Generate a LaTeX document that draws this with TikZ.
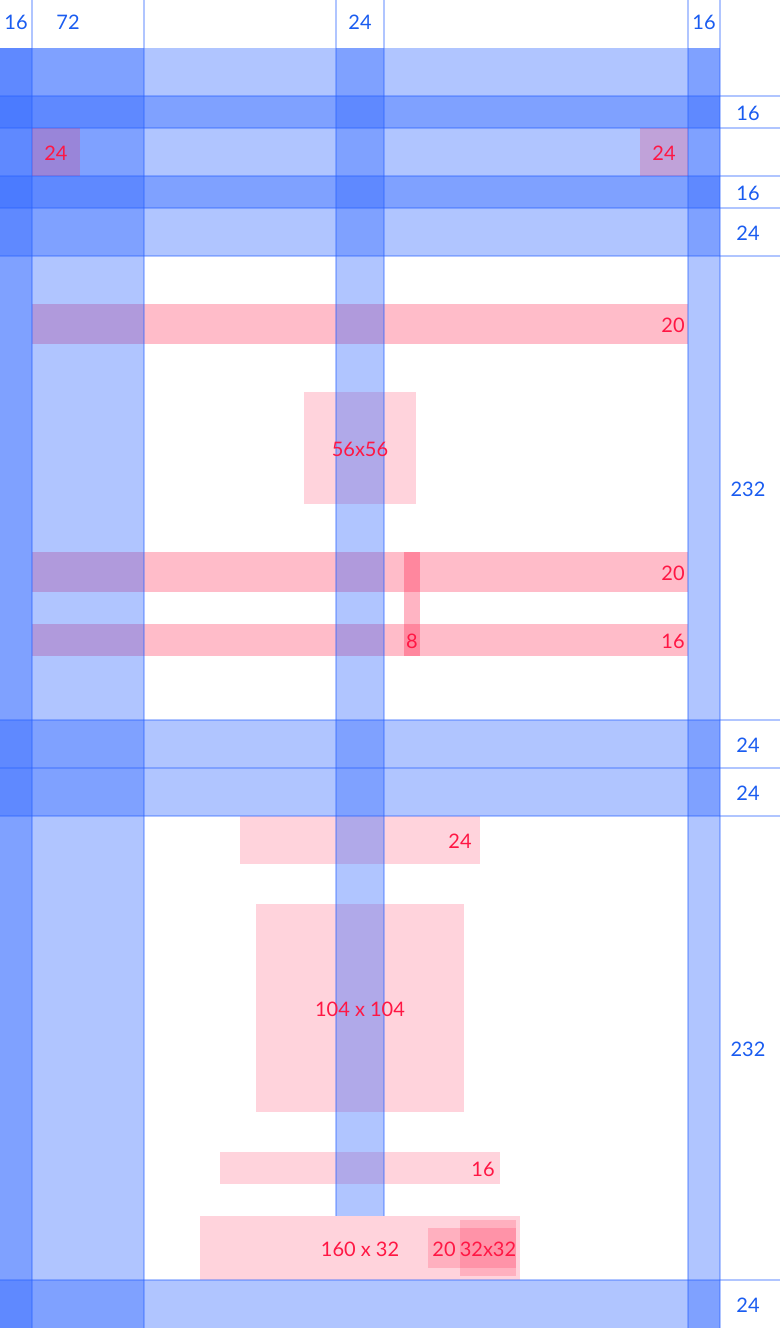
\documentclass[tikz,border=0pt]{standalone}
\usepackage{fontspec}
\setmainfont{Lato}
\definecolor{specblue}{RGB}{41,98,255}
\definecolor{spectext}{RGB}{26,92,240}
\definecolor{specred}{RGB}{255,23,68}
\usetikzlibrary{positioning}

\tikzset{
  band/.style={fill=specblue, fill opacity=0.37},
  guide/.style={draw=specblue, draw opacity=0.37, line width=0.7pt},
  keybox/.style={fill=specred, fill opacity=0.19},
  keyband/.style={fill=specred, fill opacity=0.29},
  keymark/.style={fill=specred, fill opacity=0.32},
  bluelbl/.style={font=\fontsize{10}{12}\selectfont, text=spectext, inner sep=0pt},
  redlbl/.style={font=\fontsize{10}{12}\selectfont, text=specred, inner sep=0pt}
}

\begin{document}
\begin{tikzpicture}[x=0.5pt, y=-0.5pt]
  \useasboundingbox (0,0) rectangle (780,1328);

  % Keylines of the first card (under the grid)
  \fill[keyband] (32,304) rectangle (688,344);
  \fill[keybox] (304,392) rectangle (416,504);
  \fill[keyband] (32,552) rectangle (688,592);
  \fill[keyband] (32,624) rectangle (688,656);
  \fill[keymark] (404,552) rectangle (420,656);

  % Keylines of the second card
  \fill[keybox] (240,816) rectangle (480,864);
  \fill[keybox] (256,904) rectangle (464,1112);
  \fill[keybox] (220,1152) rectangle (500,1184);
  \fill[keybox] (200,1216) rectangle (520,1280);
  \fill[keybox] (428,1228) rectangle (516,1268);
  \fill[keybox] (460,1220) rectangle (516,1276);

  % Rows
  \fill[band] (0,48) rectangle (720,256);
  \fill[band] (0,96) rectangle (720,128);
  \fill[band] (0,176) rectangle (720,208);
  \fill[band] (0,720) rectangle (720,768);
  \fill[band] (0,768) rectangle (720,816);
  \fill[band] (0,1280) rectangle (720,1328);

  % Columns
  \fill[band] (0,48) rectangle (32,1328);
  \fill[band] (0,48) rectangle (144,1328);
  \fill[band] (336,48) rectangle (384,1216);
  \fill[band] (688,48) rectangle (720,1328);

  % Guide lines
  \foreach \y in {96,128,176,208,256,720,768,816,1280}
    \draw[guide] (0,\y) -- (780,\y);
  \foreach \x in {32,144,688,720}
    \draw[guide] (\x,0) -- (\x,1328);
  \foreach \x in {336,384}
    \draw[guide] (\x,0) -- (\x,1216);

  % Toolbar icons
  \fill[specred, fill opacity=0.2] (32,128) rectangle (80,176);
  \fill[specred, fill opacity=0.2] (640,128) rectangle (688,176);

  % Column sizes
  \node[bluelbl] (colmargl) at (16,22) {16};
  \node[bluelbl] (colkey) at (68,22) {72};
  \node[bluelbl] (colmid) at (360,22) {24};
  \node[bluelbl] (colmargr) at (704,22) {16};

  % Row sizes
  \node[bluelbl] (rowpadt) at (748,113) {16};
  \node[bluelbl] (rowpadb) at (748,193) {16};
  \node[bluelbl] (rowgap) at (748,233) {24};
  \node[bluelbl] (rowcarda) at (748,489) {232};
  \node[bluelbl] (rowgapa) at (748,745) {24};
  \node[bluelbl] (rowgapb) at (748,793) {24};
  \node[bluelbl] (rowcardb) at (748,1049) {232};
  \node[bluelbl] (rowfoot) at (748,1305) {24};

  % Keyline sizes
  \node[redlbl] (iconl) at (56,153) {24};
  \node[redlbl] (iconr) at (664,153) {24};
  \node[redlbl, anchor=east] (titlea) at (685,325) {20};
  \node[redlbl] (avatar) at (360,449) {56x56};
  \node[redlbl, anchor=east] (titleb) at (685,573) {20};
  \node[redlbl, anchor=east] (subtitle) at (685,641) {16};
  \node[redlbl] (spacer) at (412,641) {8};
  \node[redlbl, anchor=east] (heading) at (472,841) {24};
  \node[redlbl] (picture) at (360,1009) {104 x 104};
  \node[redlbl, anchor=east] (caption) at (495,1169) {16};
  \node[redlbl] (button) at (360,1249) {160 x 32};
  \node[redlbl] (btngap) at (444,1249) {20};
  \node[redlbl] (btnicon) at (488,1249) {32x32};
\end{tikzpicture}
\end{document}
